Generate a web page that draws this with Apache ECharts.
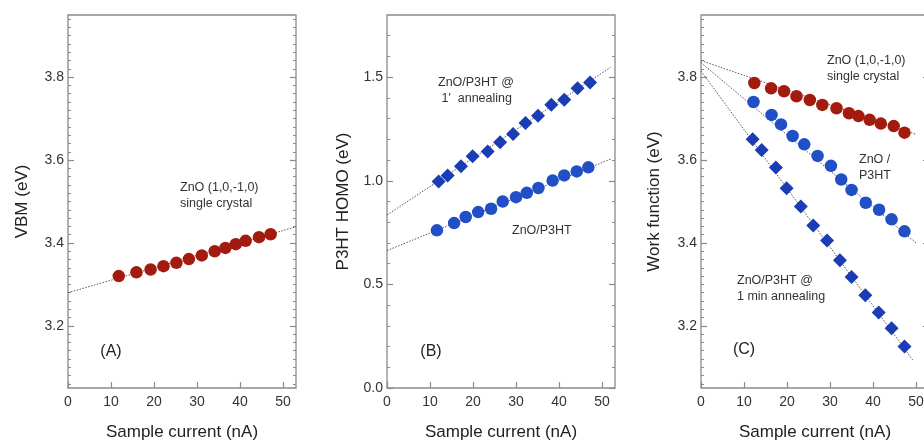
<!DOCTYPE html>
<html>
<head>
<meta charset="utf-8">
<script src="https://cdn.jsdelivr.net/npm/echarts@6/dist/echarts.min.js"></script>
<style>
  html, body { margin: 0; padding: 0; background: #fff; }
  #chart { width: 924px; height: 441px; }
</style>
</head>
<body>
<div id="chart"></div>
<script>
// ---- Panel A: VBM of the bare ZnO crystal ----
const aCurrent = [11.8, 15.9, 19.2, 22.2, 25.2, 28.1, 31.1, 34.1, 36.6, 39.0, 41.3, 44.4, 47.1];
const aVBM     = [3.320, 3.329, 3.336, 3.344, 3.352, 3.361, 3.370, 3.380, 3.388, 3.397, 3.405, 3.414, 3.421];
const aFit     = [[0, 3.280], [53, 3.439]];

// ---- Panel B: P3HT HOMO ----
const bCurrent  = [11.6, 15.6, 18.3, 21.2, 24.2, 26.9, 30.0, 32.5, 35.2, 38.5, 41.2, 44.1, 46.8];
const bHomo     = [0.761, 0.796, 0.825, 0.849, 0.865, 0.900, 0.921, 0.942, 0.965, 1.001, 1.026, 1.045, 1.065];
const bFit      = [[0, 0.663], [52, 1.105]];
const bAnnCurrent = [12.0, 14.1, 17.2, 19.9, 23.4, 26.3, 29.3, 32.2, 35.1, 38.2, 41.2, 44.3, 47.2];
const bAnnHomo    = [0.997, 1.026, 1.070, 1.118, 1.141, 1.186, 1.226, 1.279, 1.314, 1.367, 1.391, 1.447, 1.474];
const bAnnFit     = [[0, 0.835], [52, 1.548]];

// ---- Panel C: work function ----
const cZnOCurrent = [12.4, 16.3, 19.3, 22.2, 25.3, 28.2, 31.5, 34.4, 36.6, 39.2, 41.8, 44.8, 47.3];
const cZnOWF      = [3.786, 3.773, 3.766, 3.754, 3.745, 3.733, 3.725, 3.713, 3.706, 3.697, 3.688, 3.682, 3.666];
const cZnOFit     = [[0, 3.840], [50, 3.662]];
const cP3Current  = [12.2, 16.4, 18.6, 21.3, 24.0, 27.1, 30.2, 32.6, 35.0, 38.3, 41.4, 44.3, 47.3];
const cP3WF       = [3.740, 3.709, 3.686, 3.658, 3.638, 3.610, 3.586, 3.553, 3.528, 3.497, 3.480, 3.457, 3.428];
const cP3Fit      = [[0, 3.835], [50, 3.400]];
const cAnnCurrent = [12.0, 14.1, 17.4, 19.9, 23.2, 26.1, 29.3, 32.3, 35.0, 38.2, 41.3, 44.3, 47.3];
const cAnnWF      = [3.650, 3.624, 3.582, 3.532, 3.488, 3.442, 3.406, 3.358, 3.318, 3.274, 3.232, 3.194, 3.150];
const cAnnFit     = [[0, 3.815], [49.2, 3.118]];

// ---- Tick labels ----
const xTicks   = [0, 10, 20, 30, 40, 50];
const wfTicks  = [3.2, 3.4, 3.6, 3.8];
const homoTicks = [0.0, 0.5, 1.0, 1.5];

const RED = '#a31a0e';
const BLUE = '#2150c6';
const BLUE_D = '#1a3cb5';
const FRAME = '#8a8a8a';
const FONT = '"Liberation Sans", Arial, sans-serif';

function pairs(xs, ys) { return xs.map((x, i) => [x, ys[i]]); }
function minorTicks(lo, hi, step, majors) {
  const out = [];
  const n = Math.round((hi - lo) / step);
  for (let i = 0; i <= n; i++) {
    const v = +(lo + i * step).toFixed(4);
    if (!majors.some(m => Math.abs(m - v) < 1e-6)) out.push(v);
  }
  return out;
}

const panels = [
  { left: 68,  ymin: 3.05, ymax: 3.95, ticks: wfTicks,   minor: minorTicks(3.06, 3.94, 0.02, wfTicks),  name: 'VBM (eV)',        gap: 37 },
  { left: 387, ymin: 0.0,  ymax: 1.8,  ticks: homoTicks, minor: minorTicks(0.1, 1.7, 0.1, homoTicks),   name: 'P3HT HOMO (eV)',  gap: 35 },
  { left: 701, ymin: 3.05, ymax: 3.95, ticks: wfTicks,   minor: minorTicks(3.06, 3.94, 0.02, wfTicks),  name: 'Work function (eV)', gap: 38 }
];

const grid = [], xAxis = [], yAxis = [];
panels.forEach((p, i) => {
  grid.push({ left: p.left, top: 15, width: 228, height: 373, show: true,
              borderColor: FRAME, borderWidth: 1.3, backgroundColor: 'transparent',
              outerBoundsMode: 'none' });
  xAxis.push({
    type: 'value', gridIndex: i, min: 0, max: 53,
    name: 'Sample current (nA)', nameLocation: 'middle', nameGap: 36,
    nameTextStyle: { fontFamily: FONT, fontSize: 17, color: '#222' },
    axisLine: { show: false }, splitLine: { show: false },
    axisTick: { inside: true, length: 6, customValues: xTicks, lineStyle: { color: FRAME, width: 1.2 } },
    axisLabel: { customValues: xTicks, margin: 7, fontFamily: FONT, fontSize: 14, color: '#333' }
  });
  p.base = yAxis.length;
  // left axis: labels and major ticks
  yAxis.push({
    type: 'value', gridIndex: i, min: p.ymin, max: p.ymax, position: 'left',
    name: p.name, nameLocation: 'middle', nameGap: p.gap, nameRotate: 90,
    nameTextStyle: { fontFamily: FONT, fontSize: 17, color: '#222' },
    axisLine: { show: false }, splitLine: { show: false },
    axisTick: { inside: true, length: 6, customValues: p.ticks, lineStyle: { color: FRAME, width: 1.2 } },
    axisLabel: { customValues: p.ticks, margin: 4, fontFamily: FONT, fontSize: 14, color: '#333',
                 formatter: v => v.toFixed(1) }
  });
  // left axis: minor ticks
  yAxis.push({
    type: 'value', gridIndex: i, min: p.ymin, max: p.ymax, position: 'left',
    axisLine: { show: false }, splitLine: { show: false },
    axisTick: { inside: true, length: 3, customValues: p.minor, lineStyle: { color: FRAME, width: 1 } },
    axisLabel: { show: false }
  });
  // right side mirror ticks
  yAxis.push({
    type: 'value', gridIndex: i, min: p.ymin, max: p.ymax, position: 'right',
    axisLine: { show: false }, splitLine: { show: false },
    axisTick: { inside: true, length: 6, customValues: p.ticks, lineStyle: { color: FRAME, width: 1.2 } },
    axisLabel: { show: false }
  });
  yAxis.push({
    type: 'value', gridIndex: i, min: p.ymin, max: p.ymax, position: 'right',
    axisLine: { show: false }, splitLine: { show: false },
    axisTick: { inside: true, length: 3, customValues: p.minor, lineStyle: { color: FRAME, width: 1 } },
    axisLabel: { show: false }
  });
});

function fitLine(xi, yi, data) {
  return { type: 'line', xAxisIndex: xi, yAxisIndex: yi, data: data, symbol: 'none', silent: true,
           lineStyle: { color: '#555', width: 1, type: [1.5, 1.5] }, z: 2 };
}
function dots(xi, yi, data, color, shape, size) {
  return { type: 'scatter', xAxisIndex: xi, yAxisIndex: yi, data: data, symbol: shape, symbolSize: size,
           itemStyle: { color: color, opacity: 1 }, z: 3 };
}

const series = [
  fitLine(0, panels[0].base, aFit),
  dots(0, panels[0].base, pairs(aCurrent, aVBM), RED, 'circle', 12.5),

  fitLine(1, panels[1].base, bFit),
  fitLine(1, panels[1].base, bAnnFit),
  dots(1, panels[1].base, pairs(bCurrent, bHomo), BLUE, 'circle', 12.5),
  dots(1, panels[1].base, pairs(bAnnCurrent, bAnnHomo), BLUE_D, 'diamond', 14),

  fitLine(2, panels[2].base, cZnOFit),
  fitLine(2, panels[2].base, cP3Fit),
  fitLine(2, panels[2].base, cAnnFit),
  dots(2, panels[2].base, pairs(cZnOCurrent, cZnOWF), RED, 'circle', 12.5),
  dots(2, panels[2].base, pairs(cP3Current, cP3WF), BLUE, 'circle', 12.5),
  dots(2, panels[2].base, pairs(cAnnCurrent, cAnnWF), BLUE_D, 'diamond', 14)
];

function note(left, top, text, size) {
  return { type: 'text', left: left, top: top, z: 10,
           style: { text: text, fontFamily: FONT, fontSize: size || 12.5, fill: '#333', lineHeight: 16 } };
}
function tag(cx, cy, text) {
  return { type: 'text', x: cx, y: cy, z: 10,
           style: { text: text, fontFamily: FONT, fontSize: 16, fill: '#222', align: 'center', verticalAlign: 'middle' } };
}

const graphic = [
  note(180, 180, 'ZnO (1,0,-1,0)\nsingle crystal'),
  tag(111, 352, '(A)'),
  note(438, 75, 'ZnO/P3HT @\n 1\'  annealing'),
  note(512, 223, 'ZnO/P3HT'),
  tag(431, 352, '(B)'),
  note(827, 53, 'ZnO (1,0,-1,0)\nsingle crystal'),
  note(859, 152, 'ZnO /\nP3HT'),
  note(737, 273, 'ZnO/P3HT @\n1 min annealing'),
  tag(744, 350, '(C)')
];

const chart = echarts.init(document.getElementById('chart'), null, { renderer: 'canvas' });
chart.setOption({
  animation: false,
  backgroundColor: '#fff',
  grid, xAxis, yAxis, series, graphic
});
</script>
</body>
</html>
